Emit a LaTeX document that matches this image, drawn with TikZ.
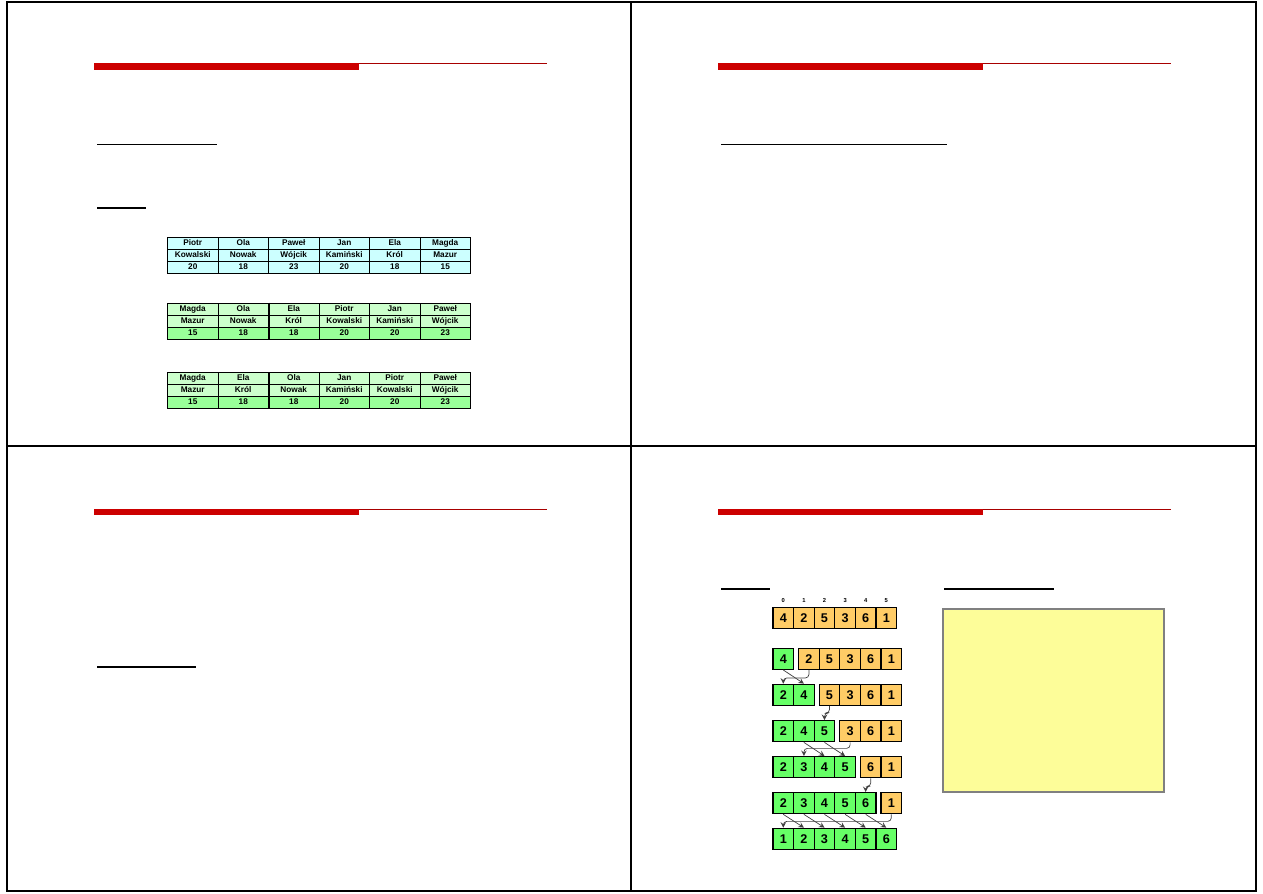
\documentclass[tikz,border=0pt]{standalone}
\usepackage{fontspec}
\setmainfont{Liberation Sans}

\definecolor{barred}{HTML}{CC0000}
\definecolor{linered}{HTML}{A80000}
\definecolor{tabcyan}{HTML}{CCFFFF}
\definecolor{tablight}{HTML}{CCFFCC}
\definecolor{tabgreen}{HTML}{99FF99}
\definecolor{cellorange}{HTML}{FFCC66}
\definecolor{cellgreen}{HTML}{66FF66}
\definecolor{notepad}{HTML}{FDFD99}

\tikzset{
  tabcell/.style={draw, line width=0.5pt, minimum width=1.01cm, minimum height=0.24cm,
    inner sep=0pt, text height=3.4pt, text depth=1pt, font=\fontsize{4.7}{5.2}\selectfont\bfseries},
  arrcell/.style={draw, line width=0.75pt, minimum width=0.412cm, minimum height=0.42cm,
    inner sep=0pt, text height=5.2pt, text depth=0pt, font=\fontsize{7.2}{8}\selectfont\bfseries},
  unsorted/.style={arrcell, fill=cellorange},
  sorted/.style={arrcell, fill=cellgreen},
  idx/.style={font=\fontsize{3.3}{3.6}\selectfont\bfseries, inner sep=0pt},
  flow/.style={->, >=stealth, line width=0.4pt, draw=black!75, rounded corners=2pt},
  heading/.style={line width=0.75pt},
}

\begin{document}
\begin{tikzpicture}[x=0.02cm, y=-0.02cm]
    \useasboundingbox (0,0) rectangle (1263,893);

    % Page frame, four slides
    \draw[line width=0.8pt] (7,2) rectangle (1256,891);
    \draw[line width=0.8pt] (631,2) -- (631,891);
    \draw[line width=0.8pt] (7,446) -- (1256,446);

    % Slide headers (red bar + thin line)
    \fill[barred] (94,62.5) rectangle (359,69.5);
    \draw[linered, line width=0.6pt] (359,63.3) -- (547,63.3);
    \fill[barred] (718,62.5) rectangle (983,69.5);
    \draw[linered, line width=0.6pt] (983,63.3) -- (1171,63.3);
    \fill[barred] (94,509) rectangle (359,515);
    \draw[linered, line width=0.6pt] (359,509.3) -- (547,509.3);
    \fill[barred] (718,509) rectangle (983,515);
    \draw[linered, line width=0.6pt] (983,509.3) -- (1171,509.3);

    % Underlined headings
    \draw[heading] (97,144.3) -- (217,144.3);
    \draw[heading] (97,208) -- (146,208);
    \draw[heading] (721,144.3) -- (947,144.3);
    \draw[heading] (97,667) -- (196,667);
    \draw[heading] (721,589) -- (770,589);
    \draw[heading] (944,589) -- (1054,589);

    % Slide 1: unsorted table
    \foreach \first/\last/\age [count=\i] in {Piotr/Kowalski/20, Ola/Nowak/18, Paweł/Wójcik/23,
        Jan/Kamiński/20, Ela/Król/18, Magda/Mazur/15}{
      \node[tabcell, fill=tabcyan] (ta-\i-1) at ({167.5+50.5*(\i-0.5)},243) {\first};
      \node[tabcell, fill=tabcyan] (ta-\i-2) at ({167.5+50.5*(\i-0.5)},255) {\last};
      \node[tabcell, fill=tabcyan] (ta-\i-3) at ({167.5+50.5*(\i-0.5)},267) {\age};
    }

    % Slide 1: sorted by age (stable)
    \foreach \first/\last/\age [count=\i] in {Magda/Mazur/15, Ola/Nowak/18, Ela/Król/18,
        Piotr/Kowalski/20, Jan/Kamiński/20, Paweł/Wójcik/23}{
      \node[tabcell, fill=tablight] (tb-\i-1) at ({167.5+50.5*(\i-0.5)},309) {\first};
      \node[tabcell, fill=tablight] (tb-\i-2) at ({167.5+50.5*(\i-0.5)},321) {\last};
      \node[tabcell, fill=tabgreen] (tb-\i-3) at ({167.5+50.5*(\i-0.5)},333) {\age};
    }
    \draw[line width=1.1pt] (tb-2-1.north east) -- (tb-2-3.south east);

    % Slide 1: sorted by age (unstable)
    \foreach \first/\last/\age [count=\i] in {Magda/Mazur/15, Ela/Król/18, Ola/Nowak/18,
        Jan/Kamiński/20, Piotr/Kowalski/20, Paweł/Wójcik/23}{
      \node[tabcell, fill=tablight] (tc-\i-1) at ({167.5+50.5*(\i-0.5)},378.5) {\first};
      \node[tabcell, fill=tablight] (tc-\i-2) at ({167.5+50.5*(\i-0.5)},390.5) {\last};
      \node[tabcell, fill=tabgreen] (tc-\i-3) at ({167.5+50.5*(\i-0.5)},402.5) {\age};
    }
    \draw[line width=1.1pt] (tc-2-1.north east) -- (tc-2-3.south east);

    % Slide 4: insertion sort, start array with indices
    \foreach \v [count=\i] in {4,2,5,3,6,1}{
      \node[unsorted] (s1-o\i) at ({773+20.6*(\i-0.5)},617.8) {\v};
      \pgfmathtruncatemacro\k{\i-1}
      \node[idx, above=2pt] (ix\i) at (s1-o\i.north) {\k};
    }

    % Slide 4: steps (green = sorted part, orange = rest)
    \foreach \r/\y/\greens/\oranges in {2/658.8/{4}/{2,5,3,6,1}, 3/694.8/{2,4}/{5,3,6,1},
        4/731.2/{2,4,5}/{3,6,1}, 5/767.2/{2,3,4,5}/{6,1}, 6/803.2/{2,3,4,5,6}/{1}}{
      \foreach \v [count=\i] in \greens
        \node[sorted] (s\r-g\i) at ({773+20.6*(\i-0.5)},\y) {\v};
      \foreach \v [count=\i] in \oranges
        \node[unsorted] (s\r-o\i) at ({778+20.6*(\r-1+\i-0.5)},\y) {\v};
    }
    \foreach \v [count=\i] in {1,...,6}
      \node[sorted] (s7-g\i) at ({773+20.6*(\i-0.5)},838.8) {\v};

    % Moves between steps
    \draw[flow] (s2-g1.south) -- (s3-g2.north);
    \draw[flow] (s2-o1.south) -- ++(0,8) -| (s3-g1.north);
    \draw[flow] (s3-o1.south) -- ++(0,7) -| (s4-g3.north);
    \draw[flow] (s4-g2.south) -- (s5-g3.north);
    \draw[flow] (s4-g3.south) -- (s5-g4.north);
    \draw[flow] (s4-o1.south) -- ++(0,6) -| (s5-g2.north);
    \draw[flow] (s5-o1.south) -- ++(0,8) -| (s6-g5.north);
    \foreach \i/\j in {1/2,2/3,3/4,4/5,5/6}
      \draw[flow] (s6-g\i.south) -- (s7-g\j.north);
    \draw[flow] (s6-o1.south) -- ++(0,7) -| (s7-g1.north);

    % Slide 4: note box
    \draw[gray, fill=notepad, line width=0.6pt] (943,609) rectangle (1164,792);
\end{tikzpicture}
\end{document}
